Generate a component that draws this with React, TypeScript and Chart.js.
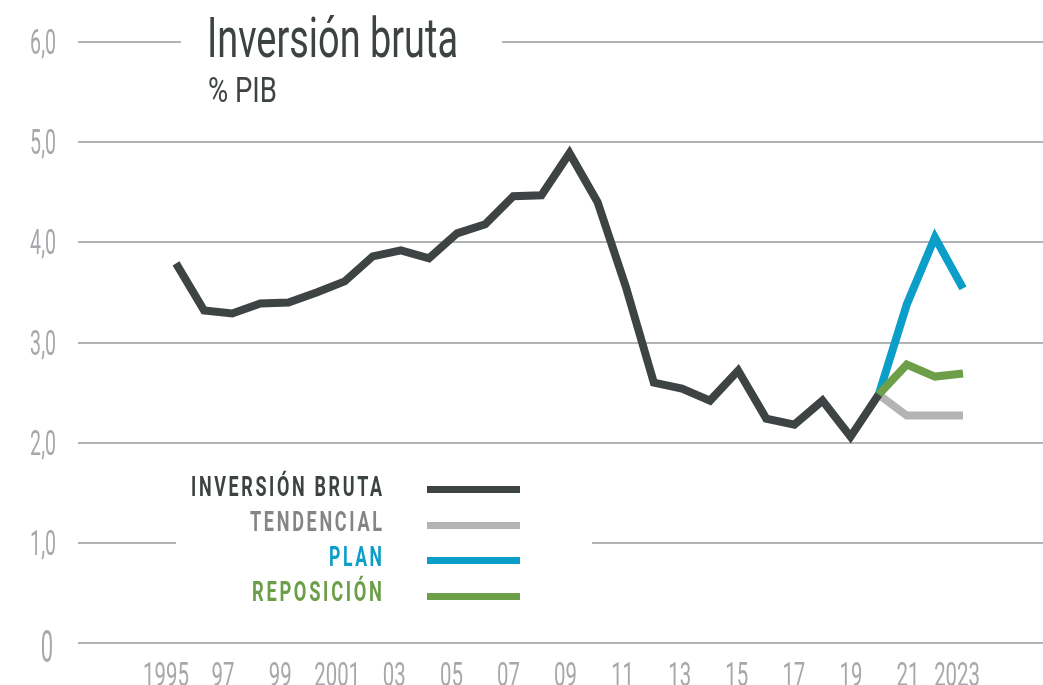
import React, { useEffect, useRef } from "react";
import { Chart, registerables } from "chart.js";

Chart.register(...registerables);

const mainYears = [1995, 1996, 1997, 1998, 1999, 2000, 2001, 2002, 2003, 2004, 2005, 2006, 2007, 2008, 2009, 2010, 2011, 2012, 2013, 2014, 2015, 2016, 2017, 2018, 2019, 2020];
const inversionBruta = [3.79, 3.32, 3.29, 3.39, 3.4, 3.5, 3.61, 3.86, 3.92, 3.84, 4.09, 4.18, 4.46, 4.47, 4.89, 4.4, 3.56, 2.6, 2.54, 2.42, 2.72, 2.24, 2.18, 2.42, 2.06, 2.48];
const projYears = [2020, 2021, 2022, 2023];
const tendencial = [2.48, 2.27, 2.27, 2.27];
const plan = [2.48, 3.38, 4.05, 3.54];
const reposicion = [2.48, 2.78, 2.66, 2.69];

const xTickYears = [1995, 1997, 1999, 2001, 2003, 2005, 2007, 2009, 2011, 2013, 2015, 2017, 2019, 2021, 2023];
const xTickLabels = ["1995", "97", "99", "2001", "03", "05", "07", "09", "11", "13", "15", "17", "19", "21", "2023"];
const yTickValues = [0, 1, 2, 3, 4, 5, 6];
const yTickLabels = ["0", "1,0", "2,0", "3,0", "4,0", "5,0", "6,0"];

const legendLabels = ["INVERSIÓN BRUTA", "TENDENCIAL", "PLAN", "REPOSICIÓN"];
const legendTextColors = ["#3d4242", "#858585", "#0a9ec8", "#6a9e48"];
const lineColors = ["#3e4343", "#b4b4b4", "#0a9ec8", "#6c9f48"];

const FONT = "Roboto, 'Liberation Sans', sans-serif";
const TICK_COLOR = "#a6a8ab";
const DIGIT_SX = 0.56;

const toPoints = (xs: number[], ys: number[]) => xs.map((x, i) => ({ x, y: ys[i] }));

function drawText(
  ctx: CanvasRenderingContext2D,
  text: string,
  x: number,
  y: number,
  font: string,
  color: string,
  align: "left" | "right" | "center",
  opts: { width?: number; sx?: number; spacing?: number }
) {
  ctx.save();
  ctx.font = font;
  const spacing = opts.spacing || 0;
  (ctx as any).letterSpacing = spacing + "px";
  const w = ctx.measureText(text).width - spacing;
  const sx = opts.width ? opts.width / w : opts.sx || 1;
  ctx.translate(x, y);
  ctx.scale(sx, 1);
  ctx.fillStyle = color;
  ctx.textBaseline = "alphabetic";
  ctx.textAlign = "left";
  const startX = align === "left" ? 0 : align === "right" ? -w : -w / 2;
  ctx.fillText(text, startX, 0);
  ctx.restore();
}

const overlayPlugin = {
  id: "overlay",
  beforeDatasetsDraw(chart: any) {
    const ctx = chart.ctx as CanvasRenderingContext2D;
    ctx.save();
    ctx.fillStyle = "#ffffff";
    ctx.fillRect(181, 20, 321, 50);
    ctx.fillRect(176, 530, 416, 25);
    ctx.restore();
  },
  afterDatasetsDraw(chart: any) {
    const ctx = chart.ctx as CanvasRenderingContext2D;
    const ys = chart.scales.y;
    const xl = chart.scales.xLabels;
    // y tick labels
    yTickValues.forEach((v, i) => {
      const py = ys.getPixelForValue(v);
      const lbl = yTickLabels[i];
      if (lbl === "0") {
        drawText(ctx, lbl, 53, py + 19, `44px ${FONT}`, TICK_COLOR, "right", { sx: 0.5 });
      } else {
        drawText(ctx, lbl, 56, py + 12, `35px ${FONT}`, TICK_COLOR, "right", { sx: DIGIT_SX });
      }
    });
    // x tick labels
    xTickYears.forEach((v, i) => {
      const px = xl.getPixelForValue(v);
      const lbl = xTickLabels[i];
      if (i === xTickYears.length - 1) {
        drawText(ctx, lbl, 980, 686, `34px ${FONT}`, TICK_COLOR, "right", { sx: 0.6 });
      } else {
        drawText(ctx, lbl, px, 686, `34px ${FONT}`, TICK_COLOR, "center", { sx: 0.6 });
      }
    });
    // title
    drawText(ctx, "Inversión bruta", 207, 57, `55px ${FONT}`, "#3d4242", "left", { width: 251 });
    drawText(ctx, "% PIB", 208, 102, `35px ${FONT}`, "#3d4242", "left", { width: 69 });
    // legend
    const textY = [495.5, 531, 566, 601];
    const lineY = [489.5, 525.5, 560.5, 596.5];
    const widths = [191, 132, 53, 130];
    legendLabels.forEach((t, i) => {
      drawText(ctx, t, 382, textY[i], `bold 27px ${FONT}`, legendTextColors[i], "right", { width: widths[i], spacing: 4 });
      ctx.save();
      ctx.strokeStyle = lineColors[i];
      ctx.lineWidth = 7;
      ctx.beginPath();
      ctx.moveTo(427, lineY[i]);
      ctx.lineTo(520, lineY[i]);
      ctx.stroke();
      ctx.restore();
    });
  },
};

export default function App() {
  const ref = useRef<HTMLCanvasElement>(null);
  useEffect(() => {
    document.body.style.margin = "0";
    const canvas = ref.current!;
    const chart = new Chart(canvas, {
      type: "line",
      data: {
        datasets: [
          { label: legendLabels[0], data: toPoints(mainYears, inversionBruta), borderColor: lineColors[0], borderWidth: 8, pointRadius: 0, order: 1 },
          { label: legendLabels[3], data: toPoints(projYears, reposicion), borderColor: lineColors[3], borderWidth: 8, pointRadius: 0, order: 2 },
          { label: legendLabels[2], data: toPoints(projYears, plan), borderColor: lineColors[2], borderWidth: 8, pointRadius: 0, order: 3 },
          { label: legendLabels[1], data: toPoints(projYears, tendencial), borderColor: lineColors[1], borderWidth: 8, pointRadius: 0, order: 4 },
        ],
      },
      options: {
        animation: false,
        responsive: false,
        maintainAspectRatio: false,
        layout: { padding: { top: 42, right: 0, left: 0, bottom: 0 } },
        plugins: { legend: { display: false }, tooltip: { enabled: false } },
        elements: { line: { tension: 0, borderJoinStyle: "miter", borderCapStyle: "butt" } },
        scales: {
          x: {
            type: "linear",
            min: 1991.513,
            max: 2025.846,
            grid: { display: false },
            border: { display: false },
            afterBuildTicks: (scale: any) => {
              scale.ticks = xTickYears.map((v) => ({ value: v }));
            },
            afterFit: (scale: any) => {
              scale.height = 42;
            },
            ticks: { display: false },
          },
          xLabels: {
            type: "linear",
            position: "bottom",
            display: false,
            min: 1991.917,
            max: 2025.73,
            afterBuildTicks: (scale: any) => {
              scale.ticks = xTickYears.map((v) => ({ value: v }));
            },
          },
          y: {
            min: 0,
            max: 6,
            afterBuildTicks: (scale: any) => {
              scale.ticks = yTickValues.map((v) => ({ value: v }));
            },
            afterFit: (scale: any) => {
              scale.width = 78;
            },
            grid: { color: "#b2b3b5", lineWidth: 2, drawTicks: false },
            border: { display: false },
            ticks: { display: false },
          },
        },
      },
      plugins: [overlayPlugin],
    });
    return () => chart.destroy();
  }, []);
  return (
    <div style={{ width: 1043, height: 685 }}>
      <canvas ref={ref} width={1043} height={685} style={{ display: "block" }} />
    </div>
  );
}
